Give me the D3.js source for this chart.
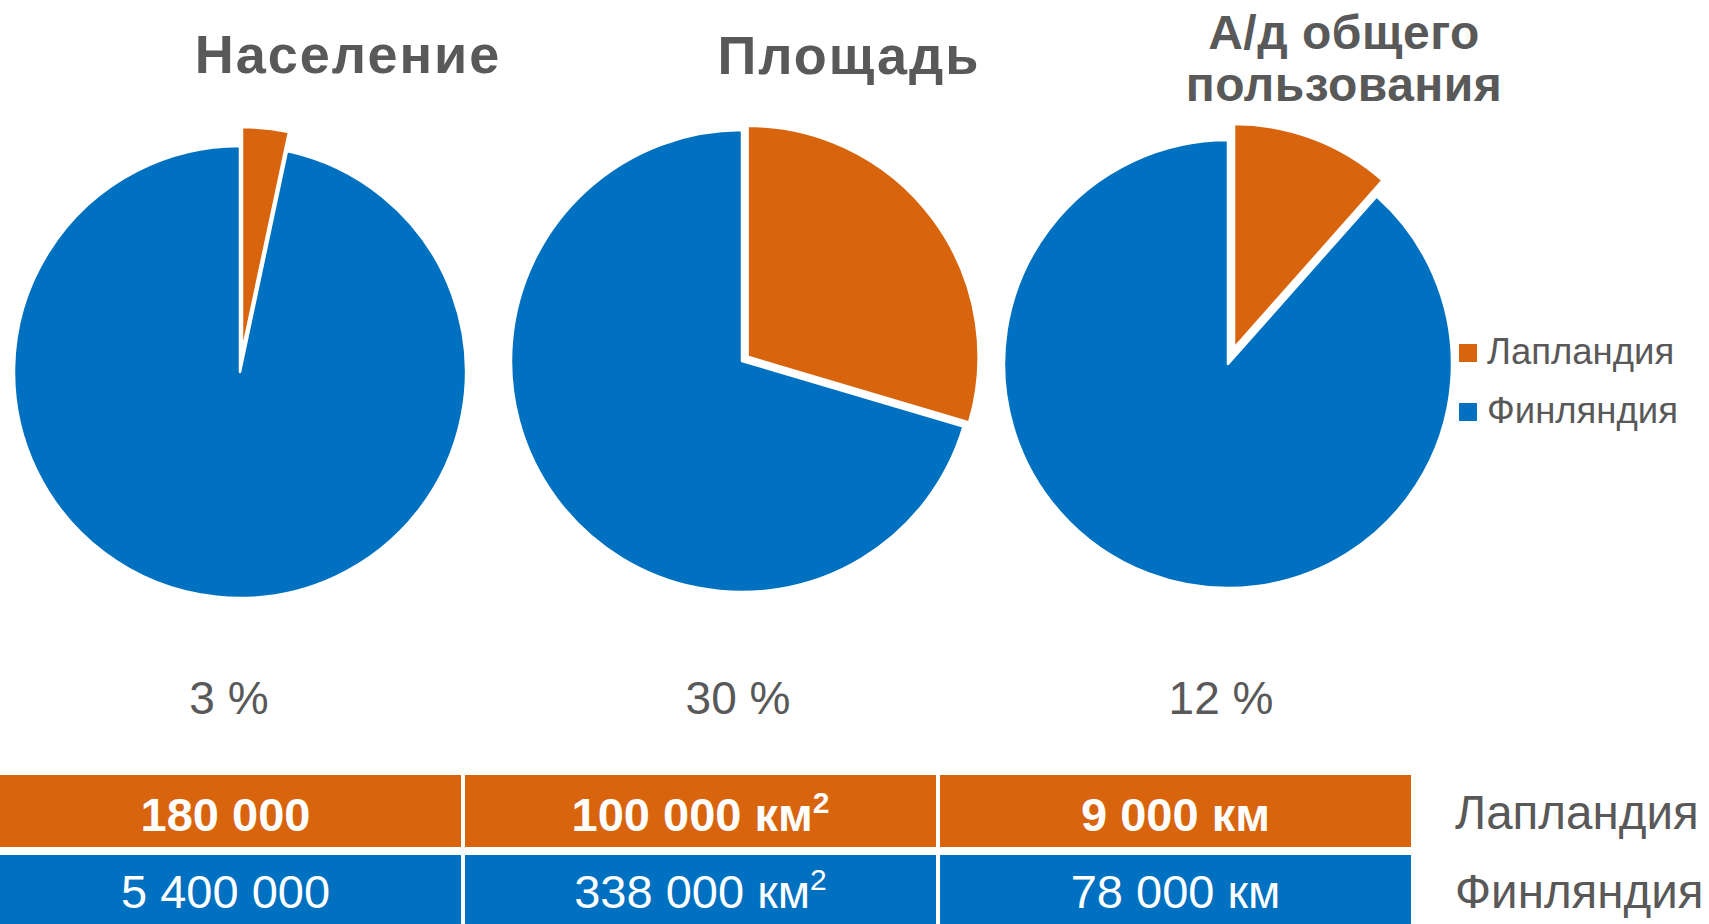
<!DOCTYPE html>
<html>
<head>
<meta charset="utf-8">
<script src="https://cdn.jsdelivr.net/npm/d3@7"></script>
<style>
  body { margin: 0; background: #fff; }
  svg { display: block; font-family: "Liberation Sans", Arial, sans-serif; }
</style>
</head>
<body>
<div id="container"></div>
<script>
/* DATA */
const categories = ["Население", "Площадь", "А/д общего пользования"];
const titleLines = [["Население"], ["Площадь"], ["А/д общего", "пользования"]];
const seriesNames = ["Лапландия", "Финляндия"];
const laplandValues = [180000, 100000, 9000];
const finlandValues = [5400000, 338000, 78000];
const unitText = ["", " км", " км"];
const unitPower = ["", "2", ""];
const shareLabels = ["3 %", "30 %", "12 %"];

/* CONSTANTS */
const width = 1709, height = 924;
const colors = { "Лапландия": "#D9640E", "Финляндия": "#0070C0" };
const grey = "#595959";

// per-chart layout (pie centre, radius, explosion of the Lapland slice, title)
const layout = [
  { cx: 240, cy: 372, r: 226, explode: 19, tx: 348, ty: [73], fs: 54, ls: 2, px: 229 },
  { cx: 742, cy: 361, r: 231, explode: 7, tx: 849, ty: [74], fs: 54, ls: 2, px: 738 },
  { cx: 1228, cy: 364, r: 224, explode: 17, tx: 1344, ty: [49, 101], fs: 48, ls: 0.5, px: 1221 }
];

const fmt = d3.formatLocale({ decimal: ",", thousands: " ", grouping: [3], currency: ["", ""] }).format(",d");

const svg = d3.select("#container").append("svg")
  .attr("width", width)
  .attr("height", height);

svg.append("rect").attr("width", width).attr("height", height).attr("fill", "#fff");

const pie = d3.pie().sort(null).value(d => d.value);
const arc = d3.arc().innerRadius(0);

categories.forEach((cat, i) => {
  const L = layout[i];
  // Lapland slice vs. the rest of Finland
  const slices = pie([
    { name: seriesNames[0], value: laplandValues[i] },
    { name: seriesNames[1], value: finlandValues[i] - laplandValues[i] }
  ]);

  const g = svg.append("g").attr("transform", `translate(${L.cx},${L.cy})`);

  g.selectAll("path")
    .data(slices)
    .join("path")
      .attr("d", d => arc.outerRadius(L.r)(d))
      .attr("fill", d => colors[d.data.name])
      .attr("stroke", "#fff")
      .attr("stroke-width", 2.5)
      .attr("stroke-linejoin", "round")
      .attr("transform", d => {
        if (d.data.name !== seriesNames[0]) return null;
        const a = (d.startAngle + d.endAngle) / 2;
        return `translate(${L.explode * Math.sin(a)},${-L.explode * Math.cos(a)})`;
      });

  // title
  svg.append("text")
    .attr("text-anchor", "middle")
    .attr("fill", grey)
    .attr("font-weight", "bold")
    .attr("font-size", L.fs)
    .attr("letter-spacing", L.ls)
    .selectAll("tspan")
    .data(titleLines[i])
    .join("tspan")
      .attr("x", L.tx)
      .attr("y", (d, j) => L.ty[j])
      .text(d => d);

  // share label
  svg.append("text")
    .attr("x", L.px)
    .attr("y", 714)
    .attr("text-anchor", "middle")
    .attr("fill", grey)
    .attr("font-size", 46)
    .text(shareLabels[i]);
});

/* LEGEND */
const legend = svg.append("g").attr("transform", "translate(1459,344)");
const leg = legend.selectAll("g")
  .data(seriesNames)
  .join("g")
    .attr("transform", (d, i) => `translate(0,${i * 59})`);
leg.append("rect")
  .attr("width", 18).attr("height", 18)
  .attr("fill", d => colors[d]);
leg.append("text")
  .attr("x", 28).attr("y", 20)
  .attr("fill", grey)
  .attr("font-size", 36.5)
  .text(d => d);

/* TABLE */
const xScale = d3.scaleBand().domain(categories).range([-10, 1415]);
const yScale = d3.scaleBand().domain(seriesNames).range([775, 935]);
const rows = [laplandValues, finlandValues];

seriesNames.forEach((s, r) => {
  const row = svg.append("g");
  row.selectAll("rect")
    .data(categories)
    .join("rect")
      .attr("x", d => xScale(d))
      .attr("y", yScale(s))
      .attr("width", xScale.bandwidth() - 4)
      .attr("height", yScale.bandwidth() - 8)
      .attr("fill", colors[s]);

  const t = row.selectAll("text")
    .data(categories)
    .join("text")
      .attr("x", d => xScale(d) + (xScale.bandwidth() - 4) / 2)
      .attr("y", yScale(s) + (r === 0 ? 56 : 53))
      .attr("text-anchor", "middle")
      .attr("fill", "#fff")
      .attr("font-size", 47)
      .attr("font-weight", r === 0 ? "bold" : "normal");
  t.append("tspan").text((d, i) => fmt(rows[r][i]) + unitText[i]);
  t.append("tspan")
    .attr("dy", -18)
    .attr("font-size", 30)
    .text((d, i) => unitPower[i]);

  // row label on the right
  svg.append("text")
    .attr("x", 1455)
    .attr("y", yScale(s) + (r === 0 ? 54 : 53))
    .attr("fill", grey)
    .attr("font-size", 47.5)
    .text(s);
});
</script>
</body>
</html>
